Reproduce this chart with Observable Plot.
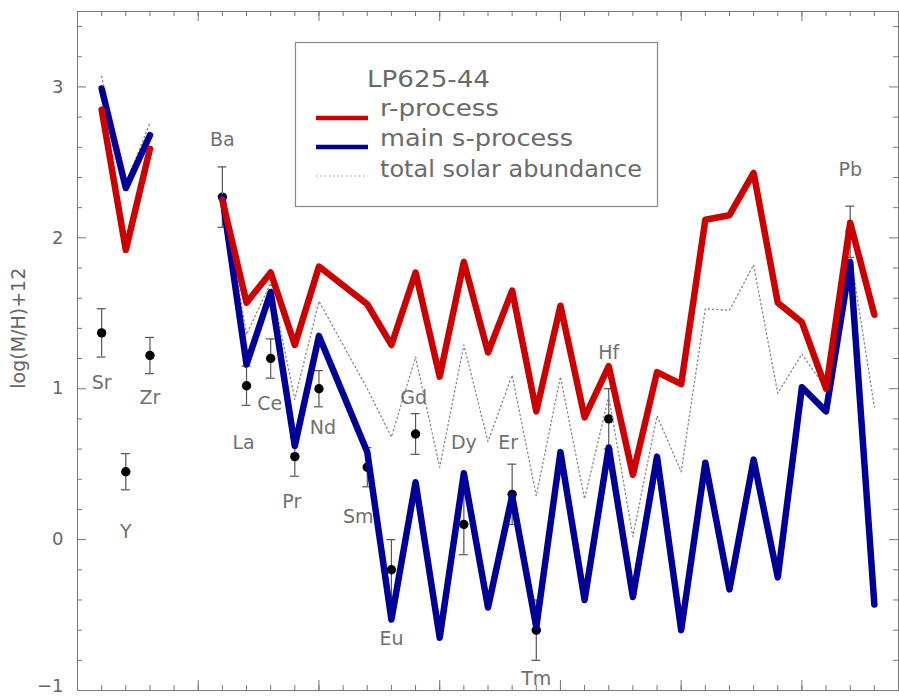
<!DOCTYPE html>
<html><head><meta charset="utf-8">
<script src="https://cdn.jsdelivr.net/npm/d3@7"></script>
<script src="https://cdn.jsdelivr.net/npm/@observablehq/plot@0.6"></script>
<style>
html,body{margin:0;padding:0;background:#fff;}
#wrap{position:relative;width:899px;height:697px;overflow:hidden;}
#wrap svg{display:block;}
#legend{position:absolute;left:0;top:0;pointer-events:none;}
</style></head>
<body><div id="wrap"></div>
<script>
// ---------- data ----------
const elements      = ["Sr","Y","Zr","Ba","La","Ce","Pr","Nd","Sm","Eu","Gd","Tb","Dy","Ho","Er","Tm","Yb","Lu","Hf","Ta","W","Re","Os","Ir","Pt","Au","Hg","Tl","Pb","Bi"];
const atomicNumbers = [38,39,40,56,57,58,59,60,62,63,64,65,66,67,68,69,70,71,72,73,74,75,76,77,78,79,80,81,82,83];
const rProcess      = [2.85,1.92,2.59,2.25,1.57,1.77,1.29,1.81,1.56,1.29,1.77,1.08,1.84,1.24,1.65,0.85,1.55,0.81,1.15,0.43,1.11,1.03,2.12,2.15,2.43,1.57,1.44,1.00,2.10,1.49];
const sProcess      = [2.99,2.33,2.68,2.27,1.16,1.64,0.62,1.35,0.58,-0.53,0.38,-0.65,0.44,-0.45,0.29,-0.58,0.58,-0.40,0.61,-0.38,0.55,-0.60,0.51,-0.33,0.53,-0.25,1.01,0.85,1.84,-0.43];
const solarTotal    = [3.07,2.36,2.76,2.30,1.36,1.70,0.93,1.58,1.00,0.68,1.21,0.48,1.29,0.65,1.09,0.29,1.08,0.27,0.95,0.02,0.82,0.45,1.53,1.52,1.82,0.97,1.23,1.00,1.90,0.88];

const observedElements = ["Sr","Y","Zr","Ba","La","Ce","Pr","Nd","Sm","Eu","Gd","Dy","Er","Tm","Hf","Pb"];
const observedValues   = [1.37,0.45,1.22,2.27,1.02,1.20,0.55,1.00,0.48,-0.20,0.70,0.10,0.30,-0.60,0.80,2.04];
const observedErrors   = [0.16,0.12,0.12,0.20,0.13,0.13,0.13,0.12,0.13,0.20,0.135,0.20,0.20,0.20,0.20,0.17];

// element name annotations (value where each name is written, in log units)
const labelElements = ["Sr","Y","Zr","Ba","La","Ce","Pr","Nd","Sm","Eu","Gd","Dy","Er","Tm","Hf","Pb"];
const labelValues   = [1.04,0.05,0.94,2.65,0.64,0.90,0.25,0.74,0.15,-0.66,0.94,0.64,0.64,-0.92,1.24,2.45];
const labelShiftPx  = [0,0,0,0,-3,-1,-3,4,-9,0,-2,0,-4,0,0,0];

const yTickLabels = [-1,0,1,2,3];
const yTitle = "log(M/H)+12";
const legendTitle = "LP625-44";
const legendLabels = ["r-process","main s-process","total solar abundance"];

// ---------- layout ----------
const W = 899, H = 697;
const mL = 77, mT = 11, mR = 1, mB = 7;
const plotW = W - mL - mR, plotH = H - mT - mB;
const xDomain = [0, 34];
const pxPerUnit = plotW / (xDomain[1] - xDomain[0]);
const RED = "#cc0000", BLUE = "#000099", GREY = "#777";
const FONT = "DejaVu Sans, Liberation Sans, sans-serif";

// broken abscissa: Sr–Zr, gap, then Ba–Bi (Pm skipped as a point)
const xPos = z => z <= 40 ? z - 37 : z - 50;
const zOf = Object.fromEntries(elements.map((e,i)=>[e, atomicNumbers[i]]));

const rows = elements.map((el,i)=>({
  el, x: xPos(atomicNumbers[i]), group: atomicNumbers[i] <= 40 ? "light" : "heavy",
  r: rProcess[i], s: sProcess[i], sun: solarTotal[i]
}));
const obs = observedElements.map((el,i)=>({
  el, x: xPos(zOf[el]), v: observedValues[i], lo: observedValues[i]-observedErrors[i], hi: observedValues[i]+observedErrors[i]
}));
const labels = labelElements.map((el,i)=>({el, x: xPos(zOf[el]), v: labelValues[i], shift: labelShiftPx[i]}));

const xMinor = d3.range(0, 35);
const xMajor = d3.range(5, 34, 5);
const yMinor = d3.range(-10, 36, 2).map(d => d/10).filter(d => !Number.isInteger(d));
const yMajor = d3.range(-1, 4);
const fmt = d => d < 0 ? "\u2212" + (-d) : String(d);
const yMin = d3.min(yTickLabels);

const chart = Plot.plot({
  width: W, height: H,
  marginLeft: mL, marginTop: mT, marginRight: mR, marginBottom: mB,
  style: {fontFamily: FONT, background: "#fff"},
  x: {domain: xDomain, axis: null},
  y: {domain: [-1, 3.5]},
  marks: [
    // ticks, inward on all four sides
    Plot.tickX(xMinor, {x: d=>d, stroke: GREY, insetTop: plotH - 5}),
    Plot.tickX(xMinor, {x: d=>d, stroke: GREY, insetBottom: plotH - 5}),
    Plot.tickX(xMajor, {x: d=>d, stroke: GREY, insetTop: plotH - 10}),
    Plot.tickX(xMajor, {x: d=>d, stroke: GREY, insetBottom: plotH - 10}),
    Plot.tickY(yMinor, {y: d=>d, stroke: GREY, insetRight: plotW - 5}),
    Plot.tickY(yMinor, {y: d=>d, stroke: GREY, insetLeft: plotW - 5}),
    Plot.tickY(yMajor, {y: d=>d, stroke: GREY, insetRight: plotW - 9}),
    Plot.tickY(yMajor, {y: d=>d, stroke: GREY, insetLeft: plotW - 9}),
    Plot.frame({stroke: GREY}),
    Plot.axisY(yTickLabels.filter(d => d > yMin), {tickSize: 0, tickPadding: 14, fontSize: 18, fill: "#666", label: null, tickFormat: fmt}),
    // lowest tick label sits at the bottom edge of the picture
    Plot.text([yMin], {y: d => d, text: fmt, frameAnchor: "left", dx: -14, dy: 1, textAnchor: "end", lineAnchor: "bottom", fontSize: 18, fill: "#666"}),
    Plot.text([yTitle], {text: d=>d, frameAnchor: "left", y: () => 1.0, dx: -59, rotate: -90, fontSize: 19, fill: "#666"}),
    // observations
    Plot.ruleX(obs, {x: "x", y1: "lo", y2: "hi", stroke: "#555", strokeWidth: 1.2}),
    Plot.ruleY(obs, {y: "lo", x1: "x", x2: "x", insetLeft: -4.5, insetRight: -4.5, stroke: "#555", strokeWidth: 1.2}),
    Plot.ruleY(obs, {y: "hi", x1: "x", x2: "x", insetLeft: -4.5, insetRight: -4.5, stroke: "#555", strokeWidth: 1.2}),
    Plot.dot(obs, {x: "x", y: "v", r: 4.7, fill: "#000"}),
    // model curves
    Plot.line(rows, {x: "x", y: "sun", z: "group", stroke: "#888", strokeWidth: 1.3, strokeDasharray: "1.3 3"}),
    Plot.line(rows, {x: "x", y: "s", z: "group", stroke: BLUE, strokeWidth: 6.5, strokeLinejoin: "round"}),
    Plot.line(rows, {x: "x", y: "r", z: "group", stroke: RED, strokeWidth: 6.5, strokeLinejoin: "round"}),
    // element names
    Plot.text(labels, {x: d => d.x + d.shift / pxPerUnit, y: "v", text: "el", fontSize: 19, fill: "#707070"})
  ]
});
document.getElementById("wrap").appendChild(chart);

// ---------- legend (overlay) ----------
const lg = d3.select("#wrap").append("svg").attr("id","legend").attr("width", W).attr("height", H);
lg.append("rect").attr("x", 295.5).attr("y", 42.5).attr("width", 362).attr("height", 164)
  .attr("fill", "none").attr("stroke", "#888").attr("stroke-width", 1.2);
const tstyle = s => s.attr("font-family", FONT).attr("fill", "#6a6a6a").attr("font-size", 23)
  .attr("lengthAdjust", "spacingAndGlyphs");
lg.append("text").text(legendTitle).attr("x", 367).attr("y", 87).attr("textLength", 123).call(tstyle);
const rowsL = [
  {t: legendLabels[0], y: 116, len: 119, ly: 118, stroke: RED, w: 4.5, dash: null},
  {t: legendLabels[1], y: 146, len: 193, ly: 147, stroke: BLUE, w: 4.5, dash: null},
  {t: legendLabels[2], y: 177, len: 262, ly: 176, stroke: "#888", w: 1.2, dash: "1.3 3"}
];
rowsL.forEach(r => {
  lg.append("line").attr("x1", 316).attr("x2", 368).attr("y1", r.ly).attr("y2", r.ly)
    .attr("stroke", r.stroke).attr("stroke-width", r.w).attr("stroke-dasharray", r.dash);
  lg.append("text").text(r.t).attr("x", 380).attr("y", r.y).attr("textLength", r.len).call(tstyle);
});
</script>
</body></html>
